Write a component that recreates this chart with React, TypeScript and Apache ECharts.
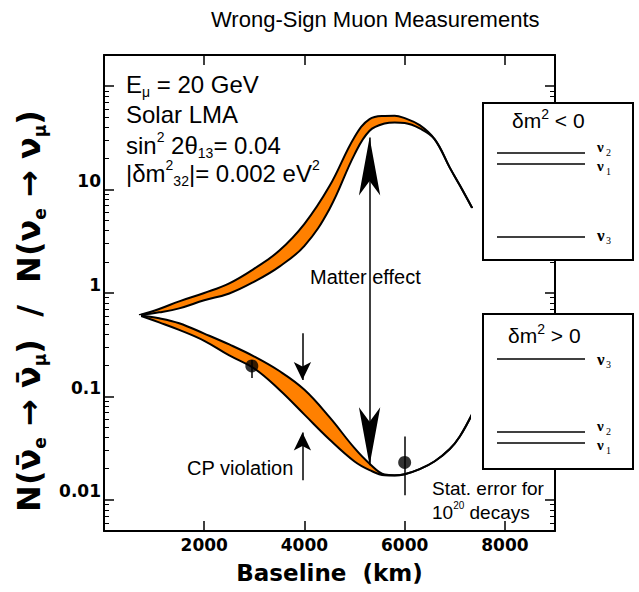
import React, { useEffect, useRef } from 'react';
import * as echarts from 'echarts';

// Baseline (km) sample points shared by all four curves
const baselineKm = [700, 1100, 1500, 2000, 2500, 3000, 3500, 4000, 4500, 5000, 5300, 5600, 5800, 6000, 6300, 6600, 6900, 7100, 7350];
// Upper (matter-enhanced) band: upper and lower edge
const upperBandHigh = [0.61, 0.70, 0.83, 1.0, 1.24, 1.72, 2.57, 4.66, 10.8, 32.3, 48, 51.5, 51.8, 49, 42, 30.6, 16.3, 11, 6.6];
const upperBandLow = [0.61, 0.65, 0.71, 0.85, 0.99, 1.29, 1.80, 2.86, 6.5, 21.9, 37, 43.5, 44.5, 44, 39, 30.6, 16.3, 11, 6.6];
// Lower (matter-suppressed) band: upper and lower edge
const lowerBandHigh = [0.61, 0.57, 0.51, 0.405, 0.318, 0.243, 0.176, 0.116, 0.063, 0.0316, 0.0224, 0.0176, 0.0173, 0.0177, 0.0198, 0.0236, 0.031, 0.041, 0.068];
const lowerBandLow = [0.61, 0.52, 0.44, 0.345, 0.249, 0.186, 0.116, 0.0667, 0.0384, 0.0235, 0.0194, 0.0173, 0.0172, 0.0177, 0.0198, 0.0236, 0.031, 0.041, 0.068];

// Measurement points with statistical error bars
const pointKm = [2950, 6000];
const pointValue = [0.197, 0.023];
const pointErrLow = [0.151, 0.0111];
const pointErrHigh = [0.225, 0.0409];

// Annotation arrows: [km, from value, to value (arrow tip)]
const matterArrowKm = 5300;
const matterArrowEnds = [31.9, 0.0216];
const cpArrowKm = 3960;
const cpDownArrow = [0.408, 0.144];
const cpUpArrow = [0.0155, 0.0448];

// Axes
const xMin = 0;
const xMax = 9000;
const xTicks = [2000, 4000, 6000, 8000];
const yMin = 0.005;
const yMax = 200;
const yMajorTicks = [0.01, 0.1, 1, 10, 100];
const yLabelTicks = [0.01, 0.1, 1, 10];

const lg = (v: number) => Math.log10(v);
const LOG_MIN = lg(yMin);
const LOG_MAX = lg(yMax);

const minorTicks: number[] = [];
for (let k = -3; k <= 2; k++) {
  for (let m = 2; m <= 9; m++) {
    const v = lg(m) + k;
    if (v >= LOG_MIN - 1e-9 && v <= LOG_MAX + 1e-9) minorTicks.push(v);
  }
}

const BOLD_FONT = 'DejaVu Sans';
const SANS = 'Liberation Sans';
const SERIF = 'Liberation Serif';
const ORANGE = '#ff8000';
const SMOOTH = 0.4;

function buildOption(): any {
  const frameLine = { show: true, onZero: false, lineStyle: { color: '#000', width: 2 } };
  const majorTick = (vals: number[]) => ({ show: true, inside: true, length: 10, customValues: vals, lineStyle: { color: '#000', width: 1.5 } });
  const minorTick = (vals: number[]) => ({ show: true, inside: true, length: 5, customValues: vals, lineStyle: { color: '#000', width: 1 } });
  const yMajorLog = yMajorTicks.map(lg);

  const pairs = (ys: number[]) => baselineKm.map((x, i) => [x, lg(ys[i])]);

  // Band fill: colour below the upper edge, then white below the lower edge.
  const fill = (name: string, ys: number[], color: string) => ({
    name, type: 'line', smooth: SMOOTH, symbol: 'none', data: pairs(ys), z: 1,
    lineStyle: { width: 0, opacity: 0 },
    areaStyle: { color, opacity: 1, origin: 'start' },
  });
  const edge = (name: string, ys: number[]) => ({
    name, type: 'line', smooth: SMOOTH, symbol: 'none', data: pairs(ys), z: 4,
    lineStyle: { color: '#000', width: 2 },
  });
  const first = 0;
  const last = baselineKm.length - 1;

  const arrow = (size: number[]) => ({ symbol: 'arrow', symbolSize: size });

  const supSub = {
    sup: { fontSize: 14, lineHeight: 14, verticalAlign: 'top', fontFamily: SANS, fill: '#000' },
    sub: { fontSize: 14, lineHeight: 10, verticalAlign: 'bottom', fontFamily: SANS, fill: '#000' },
  };
  const txt = (x: number, y: number, text: string, fontSize: number, extra: any = {}) => ({
    type: 'text', x, y, z: 120,
    style: { text, fontSize, fontFamily: SANS, fill: '#000', align: 'left', verticalAlign: 'middle', lineHeight: Math.round(fontSize * 1.25), rich: supSub, ...extra },
  });
  const nu = (x: number, y: number, idx: string, size = 17) => ({
    type: 'group', z: 120,
    children: [
      { type: 'text', x, y, z: 120, style: { text: 'ν', fontSize: size, fontFamily: SERIF, fontWeight: 'bold', fill: '#000', align: 'left', verticalAlign: 'middle' } },
      { type: 'text', x: x + 9, y: y + 5, z: 120, style: { text: idx, fontSize: 10, fontFamily: SERIF, fill: '#000', align: 'left', verticalAlign: 'middle' } },
    ],
  });
  const hline = (x1: number, x2: number, y: number) => ({
    type: 'line', z: 120, shape: { x1, y1: y, x2, y2: y }, style: { stroke: '#000', lineWidth: 1.5 },
  });
  const box = (x: number, y: number, w: number, h: number) => ({
    type: 'rect', z: 110, shape: { x, y, width: w, height: h }, style: { fill: '#fff', stroke: '#000', lineWidth: 2 },
  });

  const yName = 'N(ν\u0304{s|e} → ν\u0304{s|μ})  /  N(ν{s|e} → ν{s|μ})';

  return {
    animation: false,
    backgroundColor: '#fff',
    grid: { left: 104, top: 55, right: 84, bottom: 58, containLabel: false },
    xAxis: [
      {
        type: 'value', position: 'bottom', min: xMin, max: xMax, z: 5,
        axisLine: frameLine, splitLine: { show: false },
        axisTick: majorTick(xTicks),
        axisLabel: { customValues: xTicks, formatter: (v: number) => String(v), color: '#000', fontFamily: BOLD_FONT, fontWeight: 'bold', fontSize: 17, margin: 5 },
        name: 'Baseline  (km)', nameLocation: 'middle', nameGap: 28,
        nameTextStyle: { fontFamily: BOLD_FONT, fontWeight: 'bold', fontSize: 23, lineHeight: 28, color: '#000' },
      },
      {
        type: 'value', position: 'top', min: xMin, max: xMax, z: 5,
        axisLine: frameLine, splitLine: { show: false },
        axisTick: majorTick(xTicks), axisLabel: { show: false },
      },
    ],
    yAxis: [
      {
        type: 'value', position: 'left', min: LOG_MIN, max: LOG_MAX, z: 5,
        axisLine: frameLine, splitLine: { show: false },
        axisTick: majorTick(yMajorLog),
        axisLabel: {
          customValues: yLabelTicks.map(lg), color: '#000', fontFamily: BOLD_FONT, fontWeight: 'bold', fontSize: 17,
          margin: 3, verticalAlign: 'bottom',
          formatter: (v: number) => { const p = Math.round(v); return p >= 0 ? String(Math.pow(10, p)) : Math.pow(10, p).toFixed(-p); },
        },
        name: yName, nameLocation: 'middle', nameRotate: 90, nameGap: 27,
        nameTextStyle: {
          fontFamily: BOLD_FONT, fontWeight: 'bold', fontSize: 32, lineHeight: 38, color: '#000', padding: [0, 36, 0, 0],
          rich: { s: { fontFamily: BOLD_FONT, fontWeight: 'bold', fontSize: 17, lineHeight: 12, verticalAlign: 'bottom', color: '#000' } },
        },
      },
      {
        type: 'value', position: 'left', min: LOG_MIN, max: LOG_MAX, z: 5,
        axisLine: { show: false, onZero: false }, splitLine: { show: false },
        axisTick: minorTick(minorTicks), axisLabel: { show: false },
      },
      {
        type: 'value', position: 'right', min: LOG_MIN, max: LOG_MAX, z: 5,
        axisLine: frameLine, splitLine: { show: false },
        axisTick: majorTick(yMajorLog), axisLabel: { show: false },
      },
      {
        type: 'value', position: 'right', min: LOG_MIN, max: LOG_MAX, z: 5,
        axisLine: { show: false, onZero: false }, splitLine: { show: false },
        axisTick: minorTick(minorTicks), axisLabel: { show: false },
      },
    ],
    series: [
      fill('upper-band-fill', upperBandHigh, ORANGE),
      fill('upper-band-clear', upperBandLow, '#fff'),
      fill('lower-band-fill', lowerBandHigh, ORANGE),
      fill('lower-band-clear', lowerBandLow, '#fff'),
      {
        // hides anti-aliasing seams at the two ends of the fills
        name: 'fill-seams', type: 'line', data: [], z: 2,
        markLine: {
          silent: true, animation: false, symbol: ['none', 'none'], label: { show: false },
          lineStyle: { color: '#fff', width: 3, type: 'solid' },
          data: [
            [{ coord: [baselineKm[first], LOG_MIN] }, { coord: [baselineKm[first], lg(upperBandHigh[first])] }],
            [{ coord: [baselineKm[last], LOG_MIN] }, { coord: [baselineKm[last], lg(upperBandHigh[last])] }],
          ],
        },
      },
      edge('upper-band-high', upperBandHigh),
      edge('upper-band-low', upperBandLow),
      edge('lower-band-high', lowerBandHigh),
      edge('lower-band-low', lowerBandLow),
      {
        name: 'measurements', type: 'scatter', symbol: 'circle', symbolSize: 13,
        itemStyle: { color: '#000' }, z: 6,
        data: pointKm.map((x, i) => [x, lg(pointValue[i])]),
        markLine: {
          silent: true, animation: false, symbol: ['none', 'none'],
          label: { show: false }, lineStyle: { color: '#000', width: 1.5, type: 'solid' },
          data: pointKm.map((x, i) => [{ coord: [x, lg(pointErrLow[i])] }, { coord: [x, lg(pointErrHigh[i])] }]),
        },
      },
      {
        name: 'annotations', type: 'line', data: [], z: 6,
        markLine: {
          silent: true, animation: false, symbol: ['none', 'none'],
          label: { show: false }, lineStyle: { color: '#000', width: 1.5, type: 'solid' },
          data: [
            [{ coord: [matterArrowKm, lg(matterArrowEnds[0])], ...arrow([16, 58]) }, { coord: [matterArrowKm, lg(matterArrowEnds[1])], ...arrow([16, 58]) }],
            [{ coord: [cpArrowKm, lg(cpDownArrow[0])], symbol: 'none' }, { coord: [cpArrowKm, lg(cpDownArrow[1])], ...arrow([13, 18]) }],
            [{ coord: [cpArrowKm, lg(cpUpArrow[0])], symbol: 'none' }, { coord: [cpArrowKm, lg(cpUpArrow[1])], ...arrow([13, 18]) }],
          ],
        },
      },
    ],
    graphic: [
      txt(211, 19, 'Wrong-Sign Muon Measurements', 22),
      txt(126, 84, 'E{sub|μ} = 20 GeV', 24),
      txt(126, 114, 'Solar LMA', 24),
      txt(126, 145, 'sin{sup|2} 2θ{sub|13}= 0.04', 24),
      txt(126, 173, '|δm{sup|2}{sub|32}|= 0.002 eV{sup|2}', 24),
      txt(310, 277, 'Matter effect', 20),
      txt(187, 468, 'CP violation', 20),
      txt(432, 488, 'Stat. error for', 19),
      txt(432, 512, '10{sup|20} decays', 19, { rich: { sup: { fontSize: 10, lineHeight: 10, verticalAlign: 'top', fontFamily: SANS, fill: '#000' } } }),
      box(483, 103, 150, 157),
      txt(512, 120, 'δm{sup|2} < 0', 21),
      hline(497, 585, 153), hline(497, 585, 164), hline(497, 585, 237),
      nu(597, 147, '2', 15), nu(597, 166, '1', 15), nu(597, 235, '3'),
      box(483, 314, 150, 155),
      txt(508, 335, 'δm{sup|2} > 0', 21),
      hline(497, 585, 359), hline(497, 585, 432), hline(497, 585, 443),
      nu(597, 359, '3'), nu(597, 426, '2', 15), nu(597, 445, '1', 15),
    ],
  };
}

export default function App() {
  const ref = useRef<HTMLDivElement>(null);
  useEffect(() => {
    if (!ref.current) return;
    const chart = echarts.init(ref.current, null, { renderer: 'svg' });
    chart.setOption(buildOption());
    return () => chart.dispose();
  }, []);
  return <div ref={ref} style={{ position: 'absolute', left: 0, top: 0, width: 639, height: 592, background: '#fff' }} />;
}
